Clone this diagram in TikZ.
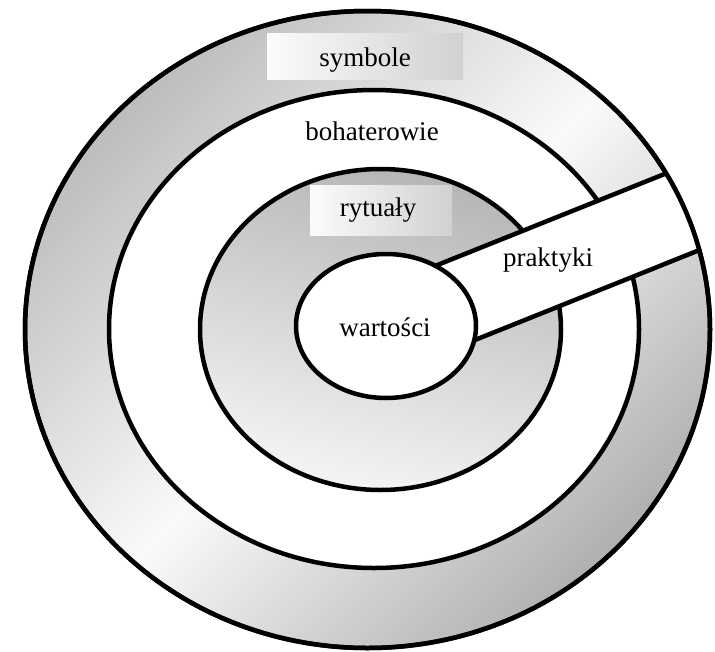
\documentclass[tikz,border=0pt]{standalone}
\usepackage{fontspec}
\setmainfont{Liberation Serif}
\begin{document}
\begin{tikzpicture}[x=1pt,y=-1pt,line width=4.5pt,
  ringline/.style={draw=black},
  lbl/.style={font=\fontsize{27}{30}\selectfont, inner sep=0pt},
  lblbox/.style={draw=none, left color=gray!3, right color=gray!36, inner sep=0pt}]
\useasboundingbox (0,0) rectangle (715,651);
% outer ring (symbole)
\path[ringline, top color=gray!52, bottom color=gray!62, middle color=gray!4, shading angle=45]
  (367.5,329.5) ellipse [x radius=342.5, y radius=318.5];
% heroes ring
\path[ringline, fill=white] (374,329) ellipse [x radius=265, y radius=239];
% rituals ring
\path[ringline, left color=gray!58, right color=gray!8, shading angle=-15]
  (380.5,329.5) ellipse [x radius=180.5, y radius=160.5];
% practices band
\begin{scope}
  \clip (367.5,329.5) ellipse [x radius=342.5, y radius=318.5];
  \coordinate (u1) at (380,288);
  \coordinate (u2) at (752,139);
  \coordinate (l1) at (410,366);
  \coordinate (l2) at (782,217);
  \fill[white] (u1) -- (u2) -- (l2) -- (l1) -- cycle;
  \draw (u1) -- (u2);
  \draw (l1) -- (l2);
\end{scope}
% values
\path[ringline, fill=white] (386,326) ellipse [x radius=90, y radius=72];
% outer outline again
\draw (367.5,329.5) ellipse [x radius=342.5, y radius=318.5];
% label boxes
\node[lblbox, minimum width=196pt, minimum height=46pt] (symbox) at (365,56) {};
\node[lblbox, minimum width=142pt, minimum height=50pt] (rytbox) at (381,210) {};
% labels
\node[lbl] (symbole) at (365,60) {symbole};
\node[lbl] (bohaterowie) at (372,131) {bohaterowie};
\node[lbl] (rytualy) at (378,210) {rytuały};
\node[lbl] (wartosci) at (385,327) {wartości};
\node[lbl] (praktyki) at (548,260) {praktyki};
\end{tikzpicture}
\end{document}
